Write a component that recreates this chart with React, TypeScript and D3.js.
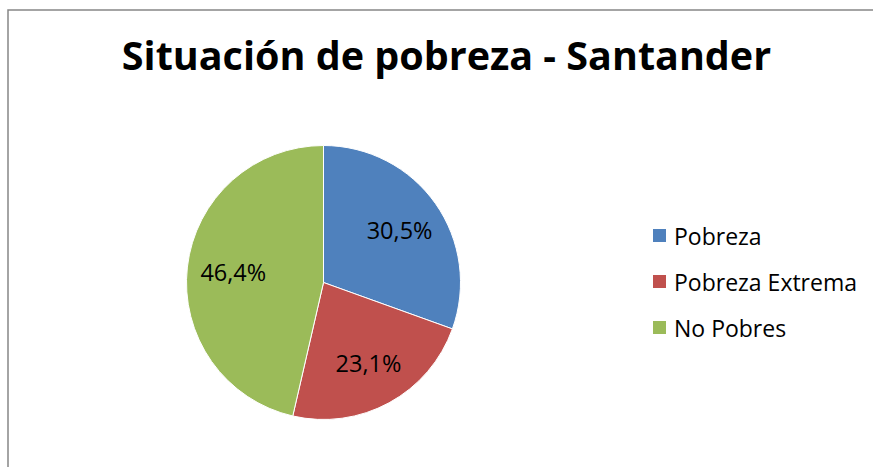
import React from "react";
import * as d3 from "d3";

const categories = ["Pobreza", "Pobreza Extrema", "No Pobres"];
const values = [30.5, 23.1, 46.4];
const valueLabels = ["30,5%", "23,1%", "46,4%"];
const colors = ["#4F81BD", "#C0504D", "#9BBB59"];

const width = 873;
const height = 467;
const font = "'Open Sans', 'Liberation Sans', sans-serif";

export default function App() {
  const cx = 323.5;
  const cy = 282.5;
  const radius = 137;

  const pie = d3
    .pie<number>()
    .sort(null)
    .value((d) => d);
  const arcs = pie(values);

  const arc = d3.arc<d3.PieArcDatum<number>>().innerRadius(0).outerRadius(radius);
  const labelArc = d3
    .arc<d3.PieArcDatum<number>>()
    .innerRadius(radius * 0.67)
    .outerRadius(radius * 0.67);

  // legend rows
  const legendY = d3.scalePoint<string>().domain(categories).range([236, 328]);

  return (
    <svg
      width={width}
      height={height}
      style={{ position: "absolute", left: 0, top: 0, background: "#fff" }}
    >
      <rect x={8} y={10} width={868} height={470} fill="#fff" stroke="#868686" strokeWidth={1.5} />

      <text
        x={446.5}
        y={70}
        textAnchor="middle"
        fontFamily={font}
        fontWeight="bold"
        fontSize={39.5}
        fill="#000"
      >
        Situación de pobreza - Santander
      </text>

      <g transform={`translate(${cx},${cy})`}>
        {arcs.map((a, i) => (
          <path key={categories[i]} d={arc(a) || ""} fill={colors[i]} stroke="#fff" strokeWidth={1} />
        ))}
        {arcs.map((a, i) => {
          const [lx, ly] = labelArc.centroid(a);
          return (
            <text
              key={"l" + i}
              x={lx + 1}
              y={ly}
              textAnchor="middle"
              dominantBaseline="central"
              fontFamily={font}
              fontSize={23.5}
              fill="#000"
            >
              {valueLabels[i]}
            </text>
          );
        })}
      </g>

      <g>
        {categories.map((c, i) => (
          <g key={c} transform={`translate(653,${legendY(c)})`}>
            <rect x={0} y={-7} width={13} height={13} fill={colors[i]} />
            <text x={21} y={0} dominantBaseline="central" fontFamily={font} fontSize={23} fill="#000">
              {c}
            </text>
          </g>
        ))}
      </g>
    </svg>
  );
}
